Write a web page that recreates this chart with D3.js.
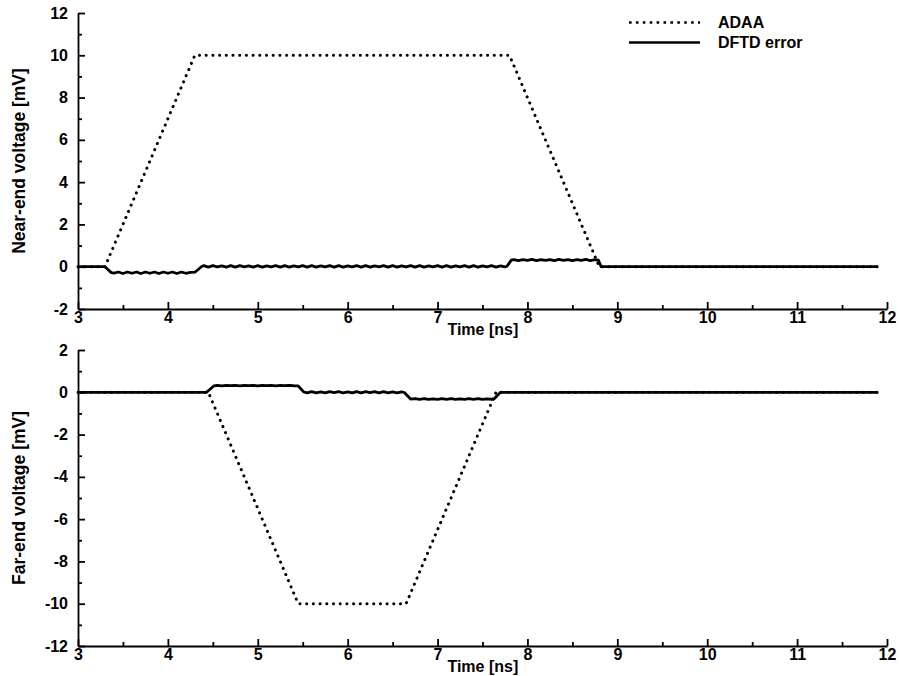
<!DOCTYPE html>
<html>
<head>
<meta charset="utf-8">
<script src="https://cdn.jsdelivr.net/npm/d3@7/dist/d3.min.js"></script>
<style>
	body { margin: 0; background: #fff; }
	svg { display: block; }
	.axis text { font-family: "Liberation Sans", Arial, sans-serif; font-weight: bold; font-size: 16px; fill: #000; }
	.axis path, .axis line { stroke: #000; stroke-width: 1.8; }
	.lbl { font-family: "Liberation Sans", Arial, sans-serif; font-weight: bold; font-size: 16px; fill: #000; }
	.ytitle { font-size: 17.5px; }
</style>
</head>
<body>
<div id="idChart"></div>
<script>
// time axis, ns
var aTimeTicks = [3, 4, 5, 6, 7, 8, 9, 10, 11, 12];
var aTimeMinor = [3.5, 4.5, 5.5, 6.5, 7.5, 8.5, 9.5, 10.5, 11.5];
var aNearTicks = [-2, 0, 2, 4, 6, 8, 10, 12];
var aNearMinor = [-1, 1, 3, 5, 7, 9, 11];
var aFarTicks = [-12, -10, -8, -6, -4, -2, 0, 2];
var aFarMinor = [-11, -9, -7, -5, -3, -1, 1];

// ADAA reference, [t ns, mV]
var aNearADAA = [[3, 0], [3.3, 0], [4.3, 10], [7.8, 10], [8.8, 0], [11.9, 0]];
var aFarADAA = [[3, 0], [4.45, 0], [5.45, -10], [6.65, -10], [7.65, 0], [11.9, 0]];

// DFTD error, [t ns, mV]
var aNearDFTD = [
	[3.00, 0], [3.30, 0], [3.37, -0.28],
	[3.40, -0.30], [3.45, -0.25], [3.50, -0.32], [3.55, -0.25], [3.60, -0.31], [3.65, -0.25], [3.70, -0.32], [3.75, -0.25],
	[3.80, -0.31], [3.85, -0.25], [3.90, -0.32], [3.95, -0.25], [4.00, -0.31], [4.05, -0.25], [4.10, -0.32], [4.15, -0.25],
	[4.20, -0.31], [4.25, -0.27], [4.30, -0.26], [4.38, 0.02],
	[4.40, 0.05], [4.45, -0.02], [4.50, 0.05], [4.55, -0.01], [4.60, 0.04], [4.65, -0.02], [4.70, 0.05], [4.75, -0.02],
	[4.80, 0.05], [4.85, -0.01], [4.90, 0.04], [4.95, -0.02], [5.00, 0.05], [5.05, -0.02], [5.10, 0.04], [5.15, -0.01],
	[5.20, 0.05], [5.25, -0.02], [5.30, 0.05], [5.35, -0.02], [5.40, 0.04], [5.45, -0.01], [5.50, 0.05], [5.55, -0.02],
	[5.60, 0.05], [5.65, -0.02], [5.70, 0.04], [5.75, -0.01], [5.80, 0.05], [5.85, -0.02], [5.90, 0.05], [5.95, -0.02],
	[6.00, 0.04], [6.05, -0.01], [6.10, 0.05], [6.15, -0.02], [6.20, 0.05], [6.25, -0.02], [6.30, 0.04], [6.35, -0.01],
	[6.40, 0.05], [6.45, -0.02], [6.50, 0.05], [6.55, -0.02], [6.60, 0.04], [6.65, -0.01], [6.70, 0.05], [6.75, -0.02],
	[6.80, 0.05], [6.85, -0.02], [6.90, 0.04], [6.95, -0.01], [7.00, 0.05], [7.05, -0.02], [7.10, 0.05], [7.15, -0.02],
	[7.20, 0.04], [7.25, -0.01], [7.30, 0.05], [7.35, -0.02], [7.40, 0.05], [7.45, -0.02], [7.50, 0.04], [7.55, -0.01],
	[7.60, 0.05], [7.65, -0.02], [7.70, 0.04], [7.75, -0.01], [7.77, 0.01], [7.82, 0.31],
	[7.85, 0.34], [7.90, 0.29], [7.95, 0.34], [8.00, 0.30], [8.05, 0.35], [8.10, 0.29], [8.15, 0.34], [8.20, 0.30],
	[8.25, 0.34], [8.30, 0.29], [8.35, 0.35], [8.40, 0.30], [8.45, 0.34], [8.50, 0.29], [8.55, 0.34], [8.60, 0.30],
	[8.65, 0.35], [8.70, 0.29], [8.75, 0.33], [8.79, 0.31], [8.82, 0], [11.90, 0]
];
var aFarDFTD = [
	[3.00, 0], [4.43, 0], [4.51, 0.30],
	[4.55, 0.33], [4.60, 0.30], [4.65, 0.33], [4.70, 0.31], [4.75, 0.33], [4.80, 0.30], [4.85, 0.33], [4.90, 0.31],
	[4.95, 0.33], [5.00, 0.30], [5.05, 0.33], [5.10, 0.31], [5.15, 0.33], [5.20, 0.30], [5.25, 0.33], [5.30, 0.31],
	[5.35, 0.33], [5.40, 0.31], [5.45, 0.30], [5.51, 0.02],
	[5.55, -0.03], [5.60, 0.03], [5.65, -0.03], [5.70, 0.02], [5.75, -0.03], [5.80, 0.03], [5.85, -0.02], [5.90, 0.03],
	[5.95, -0.03], [6.00, 0.02], [6.05, -0.03], [6.10, 0.03], [6.15, -0.03], [6.20, 0.03], [6.25, -0.02], [6.30, 0.03],
	[6.35, -0.03], [6.40, 0.03], [6.45, -0.03], [6.50, 0.02], [6.55, -0.03], [6.60, 0.02], [6.63, -0.01], [6.70, -0.32],
	[6.75, -0.30], [6.80, -0.34], [6.85, -0.30], [6.90, -0.34], [6.95, -0.31], [7.00, -0.34], [7.05, -0.30], [7.10, -0.34],
	[7.15, -0.30], [7.20, -0.34], [7.25, -0.31], [7.30, -0.34], [7.35, -0.30], [7.40, -0.34], [7.45, -0.30], [7.50, -0.34],
	[7.55, -0.31], [7.60, -0.33], [7.63, -0.31], [7.70, 0], [11.90, 0]
];

function DrawVoltagePanels()
{
	var iWidth = 900;
	var iHeight = 676;
	var iLeft = 78;
	var iRight = 887;

	var mySvg = d3.select("#idChart").append("svg")
		.attr("width", iWidth)
		.attr("height", iHeight);

	var xScale = d3.scaleLinear().domain([3, 12]).range([iLeft, iRight]);

	function DrawPanel(aDomain, iTop, iBottom, aMajor, aMinor, sTitle, aADAA, aDFTD)
	{
		var yScale = d3.scaleLinear().domain(aDomain).range([iBottom, iTop]);
		var g = mySvg.append("g");

		// minor ticks first
		g.append("g").attr("class", "axis")
			.attr("transform", "translate(0," + iBottom + ")")
			.call(d3.axisBottom(xScale).tickValues(aTimeMinor).tickSize(-4).tickFormat(""))
			.select(".domain").remove();
		g.append("g").attr("class", "axis")
			.attr("transform", "translate(" + iLeft + ",0)")
			.call(d3.axisLeft(yScale).tickValues(aMinor).tickSize(-4).tickFormat(""))
			.select(".domain").remove();

		var gX = g.append("g").attr("class", "axis")
			.attr("transform", "translate(0," + iBottom + ")")
			.call(d3.axisBottom(xScale).tickValues(aTimeTicks).tickSize(-7).tickSizeOuter(0).tickPadding(3)
				.tickFormat(function(d) { return String(d); }));
		gX.attr("font-family", null).attr("font-size", null);

		var gY = g.append("g").attr("class", "axis")
			.attr("transform", "translate(" + iLeft + ",0)")
			.call(d3.axisLeft(yScale).tickValues(aMajor).tickSize(-7).tickSizeOuter(0).tickPadding(10)
				.tickFormat(function(d) { return String(d); }));
		gY.attr("font-family", null).attr("font-size", null);

		g.append("text").attr("class", "lbl")
			.attr("x", xScale(7.11))
			.attr("y", iBottom + 26)
			.text("Time [ns]");

		g.append("text").attr("class", "lbl ytitle")
			.attr("transform", "translate(24.5," + ((iTop + iBottom) / 2) + ") rotate(-90)")
			.attr("text-anchor", "middle")
			.text(sTitle);

		var myLine = d3.line()
			.x(function(d) { return xScale(d[0]); })
			.y(function(d) { return yScale(d[1]); });

		g.append("path")
			.attr("d", myLine(aADAA))
			.attr("fill", "none")
			.attr("stroke", "#000")
			.attr("stroke-width", 3)
			.attr("stroke-linecap", "round")
			.attr("stroke-dasharray", "0.1,6.6");

		g.append("path")
			.attr("d", myLine(aDFTD))
			.attr("fill", "none")
			.attr("stroke", "#000")
			.attr("stroke-width", 2.8)
			.attr("stroke-linejoin", "round");
	}

	DrawPanel([-2, 12], 13, 309, aNearTicks, aNearMinor, "Near-end voltage [mV]", aNearADAA, aNearDFTD);
	DrawPanel([-12, 2], 350, 646, aFarTicks, aFarMinor, "Far-end voltage [mV]", aFarADAA, aFarDFTD);

	// legend
	var gLegend = mySvg.append("g");
	gLegend.append("line")
		.attr("x1", 629).attr("x2", 700).attr("y1", 22.5).attr("y2", 22.5)
		.attr("stroke", "#000").attr("stroke-width", 2.6).attr("stroke-dasharray", "2.6,4.3");
	gLegend.append("line")
		.attr("x1", 629).attr("x2", 700).attr("y1", 42.5).attr("y2", 42.5)
		.attr("stroke", "#000").attr("stroke-width", 2.6);
	gLegend.append("text").attr("class", "lbl").attr("x", 718).attr("y", 27.5).text("ADAA");
	gLegend.append("text").attr("class", "lbl").attr("x", 718).attr("y", 47.5).text("DFTD error");
}

DrawVoltagePanels();
</script>
</body>
</html>
